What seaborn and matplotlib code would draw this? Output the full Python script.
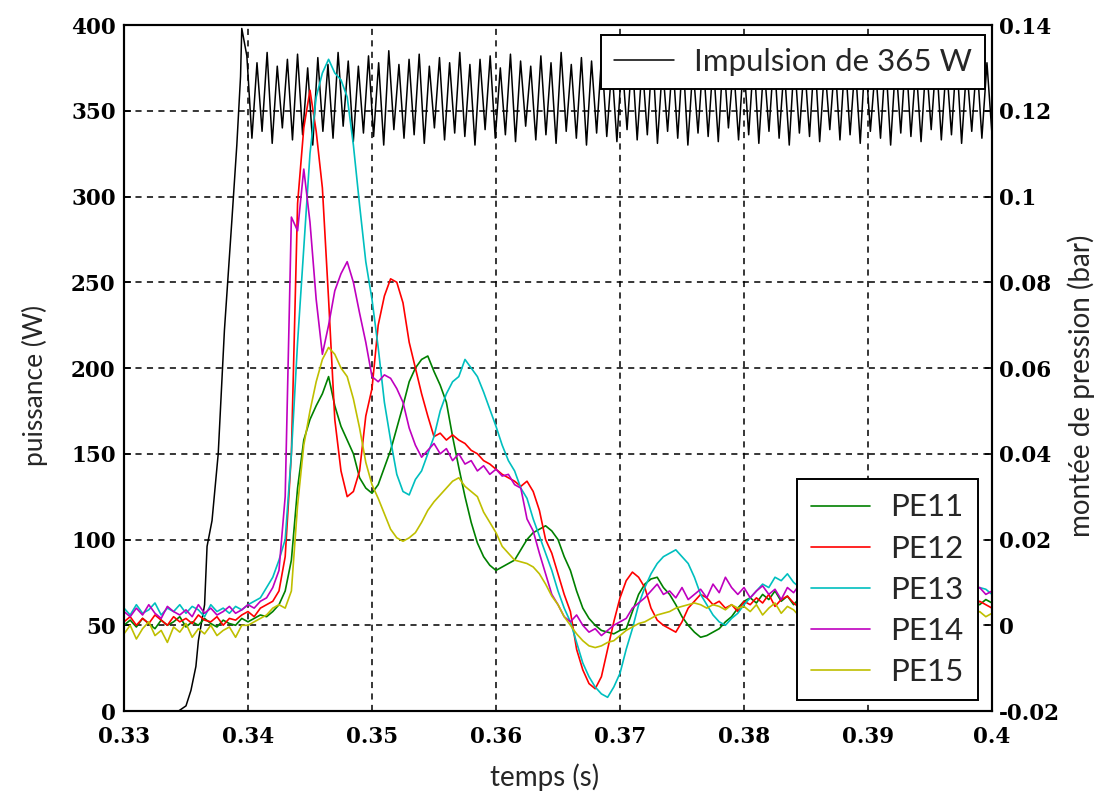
import numpy as np
import pandas as pd
import matplotlib
matplotlib.use("Agg")
import matplotlib.pyplot as plt
from matplotlib.lines import Line2D
import seaborn as sns

# ---------------- data ----------------
# sampling grid of the pressure traces (s)
t_start, t_step = 0.33, 0.0005

# pressure rise (mbar), one value every 0.5 ms from 0.330 s
pe11 = [0.0, 1.2, -0.4, 1.6, 0.4, -0.8, 1.2, 0.0, 0.8, 2.0, -0.4, 0.8, 0.0, 1.6, 0.4, -0.4, 1.2, 0.4, 0.0, 1.6,
        0.8, 1.6, 2.4, 2.0, 3.2, 4.8, 8.0, 15.2, 32.0, 43.2,
        48.0, 51.2, 54.0, 58.0, 51.2, 46.4, 43.2, 40.0, 34.4, 32.0,
        30.8, 32.8, 36.8, 40.8, 46.0, 51.2, 56.8, 60.0, 62.0, 62.8,
        59.2, 56.0, 52.0, 44.0, 36.8, 30.0, 24.0, 19.2, 16.0, 14.0,
        12.8, 13.6, 14.4, 15.2, 17.6, 20.0, 21.6, 22.4, 23.2, 22.0,
        20.0, 16.0, 12.8, 8.0, 4.0, 1.6, 0.0, -1.2, -1.6, -2.0,
        -1.2, -0.8, 3.2, 7.2, 9.6, 10.8, 11.2, 8.8, 7.2, 4.8,
        2.0, 0.0, -1.6, -2.8, -2.4, -1.6, -0.8, 0.8, 2.0, 4.0,
        5.6,
        6.4, 5.2, 7.2, 6.0, 8.0, 5.6, 6.8, 4.8, 6.4, 7.6, 5.6, 6.8, 5.2, 6.4, 8.0, 6.0, 4.8, 6.8, 5.6, 7.2,
        5.2, 6.4, 7.6, 5.6, 4.8, 6.8, 6.0, 5.2, 7.2, 5.6, 6.4, 4.8, 6.0, 6.8, 5.2, 6.4, 5.6, 4.8, 6.0, 5.2]

pe12 = [0.8, 2.0, 0.0, 1.6, 0.4, 2.4, 1.2, 0.0, 2.0, 0.8, 1.6, 0.4, 2.4, 1.2, 0.8, 2.0, 0.0, 1.6, 1.2, 2.4,
        3.2, 2.0, 4.0, 4.8, 5.6, 8.0, 16.0, 40.0, 98.4, 116.0,
        124.8, 115.2, 102.0, 76.0, 48.0, 36.0, 30.0, 31.2, 36.0, 48.8,
        55.2, 70.0, 76.8, 80.8, 80.0, 75.2, 66.0, 60.0, 54.0, 48.8,
        44.0, 44.8, 43.2, 44.4, 43.2, 42.4, 40.8, 40.0, 38.4, 37.6,
        36.4, 35.2, 34.4, 33.6, 32.4, 33.6, 31.2, 26.8, 20.0, 16.8,
        12.0, 7.2, 3.2, -5.6, -10.4, -13.6, -14.8, -12.0, -5.6, 0.8,
        6.4, 10.4, 12.4, 11.2, 8.8, 4.0, 1.2, 0.0, -0.8, -1.6,
        0.8, 4.0, 5.6, 7.2, 6.4, 4.8, 5.6, 4.0, 4.8, 3.2,
        5.6,
        4.8, 6.4, 5.2, 7.2, 4.4, 6.0, 6.8, 5.2, 4.0, 6.4, 5.6, 7.2, 4.8, 6.0, 5.2, 6.8, 4.4, 5.6, 6.4, 4.8,
        6.0, 7.2, 5.2, 4.0, 6.4, 5.6, 4.8, 6.8, 5.2, 6.0, 4.4, 6.4, 5.6, 4.8, 6.0, 5.2, 4.0, 5.6, 4.8, 4.0]

pe13 = [4.0, 2.4, 4.8, 2.8, 3.6, 5.2, 2.4, 4.0, 3.2, 4.8, 2.8, 4.4, 3.6, 2.0, 4.8, 3.2, 4.0, 2.8, 4.4, 3.6,
        4.8, 5.6, 6.4, 8.8, 11.2, 15.2, 20.0, 40.0, 66.0, 88.0,
        110.0, 123.2, 128.8, 132.0, 128.8, 127.2, 123.2, 112.0, 98.0, 84.8,
        76.0, 64.8, 52.0, 43.2, 35.2, 31.2, 30.4, 34.0, 36.0, 40.0,
        44.0, 50.0, 54.0, 56.8, 58.0, 62.0, 60.0, 58.0, 54.4, 50.4,
        46.4, 42.0, 38.4, 36.0, 32.0, 29.6, 24.8, 20.8, 16.8, 12.8,
        8.0, 4.0, 0.8, -4.0, -8.8, -12.0, -14.4, -16.0, -16.8, -14.4,
        -11.2, -5.6, -0.8, 4.8, 8.8, 12.0, 14.4, 16.0, 16.8, 17.6,
        16.0, 14.4, 11.2, 7.2, 4.8, 2.4, 0.8, 0.0, 1.6, 2.8,
        4.8,
        6.4, 8.0, 9.6, 8.8, 11.2, 10.4, 12.0, 10.0, 8.8, 10.4, 8.0, 9.6, 7.2, 8.8, 8.0, 6.4, 8.8, 7.6, 9.6, 8.0,
        6.8, 8.4, 9.2, 7.2, 8.0, 9.6, 7.6, 8.8, 6.8, 8.4, 8.0, 9.2, 7.2, 8.8, 7.6, 9.6, 8.0, 8.8, 8.4, 7.2]

pe14 = [3.2, 2.0, 4.0, 2.4, 4.8, 2.8, 1.6, 4.4, 3.2, 2.4, 3.6, 2.0, 4.8, 2.8, 4.0, 2.4, 3.2, 4.4, 2.8, 3.6,
        4.8, 4.0, 5.6, 6.4, 8.8, 12.8, 30.0, 95.2, 92.0, 106.4,
        94.0, 76.0, 63.2, 70.0, 78.0, 82.0, 84.8, 80.0, 72.8, 66.0,
        58.0, 56.8, 58.4, 57.6, 55.2, 52.0, 46.0, 42.0, 39.2, 40.8,
        42.4, 40.0, 41.2, 38.4, 40.0, 37.6, 38.4, 36.0, 37.2, 35.2,
        36.4, 34.8, 35.2, 32.8, 32.0, 24.8, 22.0, 16.8, 12.0, 7.2,
        4.8, 2.0, 0.8, 2.4, 0.0, -1.6, -0.8, -2.4, -1.2, 0.0,
        0.8, 1.6, 4.0, 5.2, 6.4, 8.0, 9.6, 7.2, 8.0, 6.4,
        8.8, 6.0, 7.2, 8.4, 6.4, 9.6, 7.6, 11.2, 8.8, 7.2,
        8.8,
        6.4, 8.0, 9.2, 7.2, 8.4, 6.0, 8.8, 7.6, 9.6, 6.8, 8.0, 8.8, 6.4, 8.4, 7.6, 9.2, 6.8, 8.0, 7.2, 8.8,
        6.0, 7.6, 8.4, 6.8, 8.0, 9.2, 7.2, 6.4, 8.4, 7.6, 8.8, 6.8, 8.0, 7.2, 9.2, 6.4, 8.0, 8.8, 7.2, 8.0]

pe15 = [-2.0, 0.0, -3.2, -0.8, 0.8, -2.4, -1.2, -4.0, -0.4, -1.6, 0.4, -2.8, -0.8, -2.0, 0.0, -2.4, -1.2, -0.4, -2.8, 0.0,
        0.0, 0.8, 1.6, 2.4, 4.0, 4.8, 4.0, 8.0, 28.0, 42.0,
        50.0, 56.8, 62.0, 64.8, 63.2, 60.0, 58.0, 52.8, 46.0, 38.0,
        32.8, 29.6, 26.0, 22.4, 20.4, 19.6, 20.4, 21.6, 24.0, 26.8,
        28.8, 30.4, 32.0, 33.6, 34.4, 32.4, 31.2, 30.0, 26.4, 24.0,
        21.6, 18.4, 16.8, 15.2, 14.8, 14.4, 13.6, 12.0, 9.6, 6.8,
        4.8, 2.0, 0.0, -2.0, -3.6, -4.8, -5.2, -4.8, -4.0, -3.6,
        -2.4, -1.2, -0.4, 0.4, 0.8, 1.6, 2.4, 2.8, 3.2, 4.0,
        4.4, 4.8, 5.2, 4.8, 4.0, 4.8, 4.4, 3.6, 4.8, 4.0,
        4.4,
        3.2, 4.8, 2.4, 4.0, 5.2, 2.8, 4.4, 3.6, 2.0, 4.8, 3.2, 4.0, 2.8, 4.4, 5.2, 2.4, 3.6, 4.8, 2.8, 4.0,
        3.2, 2.0, 4.4, 3.6, 4.8, 2.8, 4.0, 2.4, 3.6, 4.4, 3.2, 2.0, 4.0, 2.8, 3.6, 4.8, 2.4, 3.2, 2.0, 2.8]

series_names = ["PE11", "PE12", "PE13", "PE14", "PE15"]
series_colors = ["#008000", "#ff0000", "#00bfbf", "#bf00bf", "#bfbf00"]

# power impulse (W): ramp-up, then ripple (alternating peaks / troughs)
ramp_t = [0.3300, 0.3344, 0.3350, 0.3354, 0.3358, 0.3360, 0.3365, 0.3367, 0.3371,
          0.3376, 0.3381, 0.3387, 0.3391, 0.3394]
ramp_w = [0, 0, 3, 12, 26, 41, 62, 96, 111, 150, 222, 286, 330, 370]
ripple_w = [398,
            382, 334, 378, 338, 384, 331, 376, 340, 380, 333, 383, 336, 375, 330, 381, 338, 377, 334, 384, 341,
            379, 332, 376, 337, 382, 335, 378, 330, 385, 339, 377, 334, 380, 336, 383, 331, 376, 340, 381, 333,
            378, 337, 384, 335, 377, 330, 380, 339, 382, 334, 375, 336, 383, 332, 379, 341, 376, 333, 382, 336,
            378, 331, 384, 338, 377, 334, 381, 330, 379, 337, 383, 335, 376, 332, 380, 339, 382, 333, 378, 336,
            385, 331, 377, 338, 380, 334, 383, 330, 376, 337, 381, 335, 379, 332, 384, 340, 377, 333, 380, 336,
            382, 331, 378, 338, 383, 334, 376, 330, 381, 337, 379, 335, 384, 332, 377, 339, 380, 333, 382, 336,
            378, 331, 383, 338, 376, 334, 381, 330, 379, 337, 384, 335, 377, 332, 380, 339, 382, 333, 378, 336,
            383, 331, 376, 338, 380, 334, 378, 336]
ripple_start, ripple_end = 0.3395, 0.4000
impulse_label = "Impulsion de 365 W"

x_ticks = [0.33, 0.34, 0.35, 0.36, 0.37, 0.38, 0.39, 0.40]
x_ticklabels = ["0.33", "0.34", "0.35", "0.36", "0.37", "0.38", "0.39", "0.4"]
yl_ticks = [0, 50, 100, 150, 200, 250, 300, 350, 400]
yr_ticks = [-0.02, 0.0, 0.02, 0.04, 0.06, 0.08, 0.10, 0.12, 0.14]
yr_ticklabels = ["-0.02", "0", "0.02", "0.04", "0.06", "0.08", "0.1", "0.12", "0.14"]

# ---------------- frames ----------------
n = len(pe11)
for s in (pe12, pe13, pe14, pe15):
    assert len(s) == n, len(s)
t_grid = t_start + t_step * np.arange(n)
df_p = pd.concat([pd.DataFrame({"t": t_grid, "p": np.array(v) / 1000.0, "capteur": name})
                  for name, v in zip(series_names, [pe11, pe12, pe13, pe14, pe15])], ignore_index=True)

ripple_t = np.linspace(ripple_start, ripple_end, len(ripple_w))
df_w = pd.DataFrame({"t": np.concatenate([ramp_t, ripple_t]),
                     "w": np.concatenate([ramp_w, ripple_w])})

# ---------------- plot ----------------
sns.set_style("white")
plt.rcParams["font.family"] = ["Lato", "DejaVu Sans"]

fig = plt.figure(figsize=(11.02, 7.94), dpi=100)
ax = fig.add_axes([0.1125, 0.1045, 0.7877, 0.864])
ax2 = ax.twinx()

sns.lineplot(data=df_w, x="t", y="w", ax=ax, color="black", lw=1.1,
             estimator=None, sort=False, legend=False)
sns.lineplot(data=df_p, x="t", y="p", hue="capteur", ax=ax2,
             palette=dict(zip(series_names, series_colors)), lw=1.2,
             estimator=None, sort=False, legend=False)

ax.set_xlim(0.33, 0.40)
ax.set_ylim(0, 400)
ax2.set_ylim(-0.02, 0.14)

tick_font = dict(family="DejaVu Serif", weight="bold", size=15.5)
ax.set_xticks(x_ticks)
ax.set_xticklabels(x_ticklabels, fontdict=tick_font)
ax.set_yticks(yl_ticks)
ax.set_yticklabels([str(v) for v in yl_ticks], fontdict=tick_font)
ax2.set_yticks(yr_ticks)
ax2.set_yticklabels(yr_ticklabels, fontdict=tick_font)

ax.tick_params(axis="y", direction="in", length=5, width=1.2, pad=6, colors="black")
ax.tick_params(axis="x", direction="in", length=5, width=1.2, pad=11, colors="black")
ax2.tick_params(direction="in", length=5, width=1.2, pad=5, colors="black")

ax.grid(True, color="black", linestyle=(0, (4, 3.5)), lw=1.1)
ax.set_axisbelow(True)
for a in (ax, ax2):
    for sp in a.spines.values():
        sp.set_color("black")
        sp.set_linewidth(1.5)

lab_font = dict(family=["Lato", "DejaVu Sans"], size=20)
ax.set_xlabel("temps (s)", fontdict=lab_font)
ax.set_ylabel("puissance (W)", fontdict=lab_font, size=19)
ax2.set_ylabel("montée de pression (bar)", fontdict=lab_font)
ax.xaxis.set_label_coords(0.484, -0.077)
ax.yaxis.set_label_coords(-0.088, 0.474)
ax2.yaxis.set_label_coords(1.087, 0.474)

leg_font = dict(family=["Lato", "DejaVu Sans"], size=22.5)
h_imp = [Line2D([], [], color="black", lw=1.1)]
leg1 = ax2.legend(h_imp, [impulse_label], loc="upper right", bbox_to_anchor=(0.992, 0.9854),
                  prop=leg_font, frameon=True, fancybox=False, framealpha=1,
                  edgecolor="black", handlelength=1.9, handletextpad=0.65,
                  borderpad=0.42, borderaxespad=0)
leg1.get_frame().set_linewidth(1.4)
ax2.add_artist(leg1)

h_pe = [Line2D([], [], color=c, lw=1.2) for c in series_colors]
leg2 = ax2.legend(h_pe, series_names, loc="lower right", bbox_to_anchor=(0.9839, 0.016),
                  prop=leg_font, frameon=True, fancybox=False, framealpha=1,
                  edgecolor="black", handlelength=1.9, borderpad=0.45, labelspacing=0.42,
                  handletextpad=0.65, borderaxespad=0)
leg2.get_frame().set_linewidth(1.4)

fig.savefig("out.png", dpi=100)
